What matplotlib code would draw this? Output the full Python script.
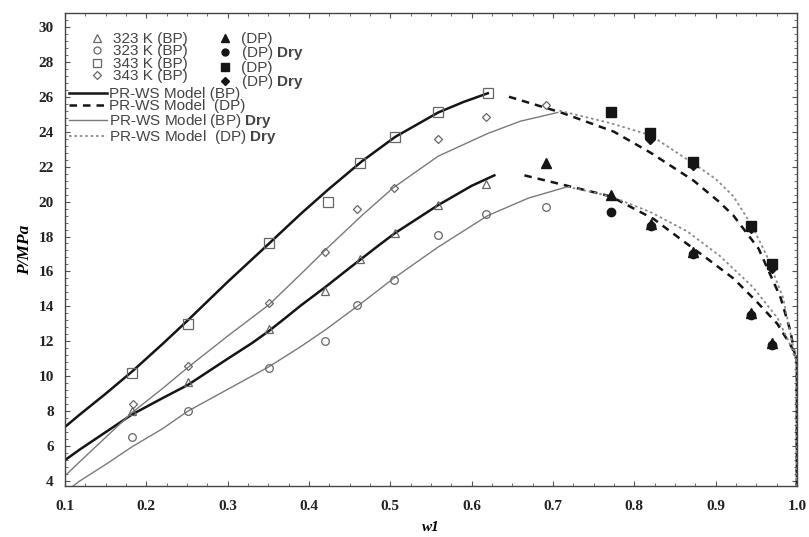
import matplotlib
matplotlib.use("Agg")
import matplotlib.pyplot as plt
from matplotlib.lines import Line2D
from matplotlib.ticker import MultipleLocator


# =========================
# DATA
# =========================
# experimental bubble points (open markers)
bp323_x = [0.182, 0.251, 0.351, 0.420, 0.463, 0.506, 0.559, 0.618]
bp323_y = [8.0, 9.7, 12.7, 14.9, 16.7, 18.2, 19.8, 21.0]
bp323dry_x = [0.183, 0.251, 0.351, 0.420, 0.459, 0.504, 0.559, 0.618, 0.692]
bp323dry_y = [6.5, 8.0, 10.5, 12.0, 14.1, 15.5, 18.1, 19.3, 19.7]
bp343_x = [0.182, 0.251, 0.351, 0.424, 0.463, 0.506, 0.559, 0.620]
bp343_y = [10.2, 13.0, 17.6, 20.0, 22.2, 23.7, 25.1, 26.2]
bp343dry_x = [0.184, 0.251, 0.351, 0.420, 0.459, 0.504, 0.559, 0.618, 0.692]
bp343dry_y = [8.4, 10.6, 14.2, 17.1, 19.6, 20.8, 23.6, 24.85, 25.5]

# experimental dew points (filled markers)
dp323_x = [0.691, 0.771, 0.821, 0.872, 0.943, 0.969]
dp323_y = [22.2, 20.4, 18.7, 17.1, 13.6, 11.9]
dp323dry_x = [0.771, 0.821, 0.872, 0.943, 0.969]
dp323dry_y = [19.4, 18.6, 17.0, 13.5, 11.8]
dp343_x = [0.771, 0.820, 0.872, 0.943, 0.969]
dp343_y = [25.1, 23.9, 22.25, 18.6, 16.4]
dp343dry_x = [0.820, 0.872, 0.943, 0.969]
dp343dry_y = [23.6, 22.1, 18.5, 16.2]

# PR-WS model curves
m_bp343_x = [0.10, 0.118, 0.15, 0.182, 0.22, 0.251, 0.30, 0.351, 0.39, 0.424, 0.465, 0.506, 0.559, 0.59, 0.62]
m_bp343_y = [7.1, 7.8, 9.0, 10.25, 11.85, 13.2, 15.4, 17.6, 19.3, 20.7, 22.3, 23.7, 25.1, 25.7, 26.2]
m_bp323_x = [0.10, 0.118, 0.15, 0.182, 0.22, 0.251, 0.30, 0.33, 0.351, 0.37, 0.39, 0.42, 0.45, 0.486, 0.506, 0.559, 0.60, 0.628]
m_bp323_y = [5.2, 5.8, 6.8, 7.8, 8.75, 9.5, 11.0, 11.9, 12.6, 13.3, 14.05, 15.1, 16.2, 17.5, 18.2, 19.8, 20.9, 21.5]
m_bp343dry_x = [0.10, 0.118, 0.15, 0.182, 0.22, 0.251, 0.30, 0.351, 0.39, 0.424, 0.465, 0.504, 0.559, 0.62, 0.66, 0.706]
m_bp343dry_y = [4.3, 5.1, 6.5, 7.9, 9.3, 10.5, 12.3, 14.1, 15.85, 17.4, 19.2, 20.8, 22.6, 23.9, 24.6, 25.1]
m_bp323dry_x = [0.11, 0.118, 0.15, 0.182, 0.22, 0.251, 0.30, 0.351, 0.39, 0.42, 0.465, 0.504, 0.559, 0.62, 0.67, 0.718]
m_bp323dry_y = [3.72, 4.0, 4.95, 5.95, 7.0, 8.0, 9.25, 10.55, 11.7, 12.65, 14.2, 15.6, 17.4, 19.2, 20.2, 20.85]

m_dp343_x = [0.646, 0.71, 0.775, 0.82, 0.873, 0.904, 0.922, 0.953, 0.98, 0.992, 0.998, 1.0, 1.0]
m_dp343_y = [26.0, 25.1, 24.0, 22.8, 21.2, 20.0, 19.2, 17.3, 14.5, 12.6, 11.1, 10.8, 3.72]
m_dp343dry_x = [0.708, 0.77, 0.82, 0.872, 0.90, 0.922, 0.945, 0.963, 0.983, 0.995, 1.0, 1.0]
m_dp343dry_y = [25.2, 24.5, 23.8, 22.2, 21.3, 20.3, 18.6, 16.9, 14.5, 11.8, 10.8, 3.72]
m_dp323_x = [0.665, 0.718, 0.771, 0.824, 0.873, 0.885, 0.922, 0.95, 0.976, 0.992, 0.998, 1.0, 1.0]
m_dp323_y = [21.5, 20.9, 20.3, 19.0, 17.3, 16.9, 15.6, 14.3, 13.0, 11.8, 11.3, 10.8, 3.72]
m_dp323dry_x = [0.718, 0.771, 0.82, 0.865, 0.905, 0.946, 0.976, 0.99, 1.0]
m_dp323dry_y = [20.85, 20.3, 19.4, 18.3, 16.9, 15.1, 13.35, 12.0, 10.8]


# =========================
# STYLE
# =========================
plt.rcParams["mathtext.fontset"] = "custom"
plt.rcParams["mathtext.bf"] = "Liberation Sans:bold"
plt.rcParams["mathtext.rm"] = "Liberation Sans"

OPEN_EC = "#666666"
BLACK = "#151515"
GRAY = "#7a7a7a"
DOTGRAY = "#8a8a8a"
DASH = (0, (3.0, 2.4))
DOT = (0, (1.4, 1.6))
LEG_FONT = {"family": "Liberation Sans", "size": 11}

fig = plt.figure(figsize=(8.09, 5.37), dpi=100)
ax = fig.add_axes([0.0803, 0.095, 0.9047, 0.881])

# model lines
ax.plot(m_bp343_x, m_bp343_y, color=BLACK, lw=1.8)
ax.plot(m_bp323_x, m_bp323_y, color=BLACK, lw=1.8)
ax.plot(m_bp343dry_x, m_bp343dry_y, color=GRAY, lw=1.0)
ax.plot(m_bp323dry_x, m_bp323dry_y, color=GRAY, lw=1.0)
ax.plot(m_dp343_x, m_dp343_y, color=BLACK, lw=1.8, ls=DASH)
ax.plot(m_dp323_x, m_dp323_y, color=BLACK, lw=1.8, ls=DASH)
ax.plot(m_dp343dry_x, m_dp343dry_y, color=DOTGRAY, lw=1.3, ls=DOT)
ax.plot(m_dp323dry_x, m_dp323dry_y, color=DOTGRAY, lw=1.3, ls=DOT)

# experimental points
open_kw = dict(ls="none", mfc="none", mec=OPEN_EC, mew=0.9)
ax.plot(bp323_x, bp323_y, marker="^", ms=6, **open_kw)
ax.plot(bp323dry_x, bp323dry_y, marker="o", ms=5.5, **open_kw)
ax.plot(bp343_x, bp343_y, marker="s", ms=6.5, **open_kw)
ax.plot(bp343dry_x, bp343dry_y, marker="D", ms=4.5, **open_kw)

fill_kw = dict(ls="none", color=BLACK)
ax.plot(dp323_x, dp323_y, marker="^", ms=7, **fill_kw)
ax.plot(dp323dry_x, dp323dry_y, marker="o", ms=6, **fill_kw)
ax.plot(dp343_x, dp343_y, marker="s", ms=6.5, **fill_kw)
ax.plot(dp343dry_x, dp343dry_y, marker="D", ms=5, **fill_kw)

# axes
ax.set_xlim(0.1, 1.0)
ax.set_ylim(3.72, 30.8)
ax.xaxis.set_major_locator(MultipleLocator(0.1))
ax.xaxis.set_minor_locator(MultipleLocator(0.025))
ax.yaxis.set_major_locator(MultipleLocator(2))
ax.yaxis.set_minor_locator(MultipleLocator(0.4))
ax.tick_params(which="both", direction="in", top=True, right=True, color="#555555")
ax.tick_params(which="major", length=3.5, width=0.8)
ax.tick_params(which="minor", length=2.2, width=0.6)
ax.tick_params(axis="x", pad=10)
ax.tick_params(axis="y", pad=8)
for s in ax.spines.values():
    s.set_color("#444444")
    s.set_linewidth(1.0)

ax.set_xticklabels([f"{v:.1f}" for v in ax.get_xticks()])
for lab in ax.get_xticklabels() + ax.get_yticklabels():
    lab.set_family("Liberation Serif")
    lab.set_fontweight("bold")
    lab.set_fontsize(11)
    lab.set_color("#222222")

ax.set_xlabel("w1", family="Liberation Serif", style="italic", fontweight="bold",
              fontsize=11, labelpad=6)
ax.set_ylabel("P/MPa", family="Liberation Serif", style="italic", fontweight="bold",
              fontsize=12.5, labelpad=4)

# legends
mk_handles = [
    Line2D([], [], marker="^", ms=6, **open_kw),
    Line2D([], [], marker="o", ms=5, **open_kw),
    Line2D([], [], marker="s", ms=6, **open_kw),
    Line2D([], [], marker="D", ms=4.5, **open_kw),
    Line2D([], [], marker="^", ms=6, **fill_kw),
    Line2D([], [], marker="o", ms=5, **fill_kw),
    Line2D([], [], marker="s", ms=6, **fill_kw),
    Line2D([], [], marker="D", ms=4.5, **fill_kw),
]
mk_labels = ["323 K (BP)", "323 K (BP)", "343 K (BP)", "343 K (BP)",
             "(DP)", r"(DP) $\bf{Dry}$", "(DP)", r"(DP) $\bf{Dry}$"]
leg1 = ax.legend(mk_handles, mk_labels, ncol=2, loc="upper left",
                 bbox_to_anchor=(89 / 809, 1 - 32 / 537), bbox_transform=fig.transFigure,
                 frameon=False, borderpad=0, borderaxespad=0,
                 handlelength=1.0, handletextpad=0.54, columnspacing=2.0,
                 labelspacing=-0.1, prop=LEG_FONT, labelcolor="#444444")
ax.add_artist(leg1)

ln_handles = [
    Line2D([], [], color=BLACK, lw=1.8),
    Line2D([], [], color=BLACK, lw=1.8, ls=DASH),
    Line2D([], [], color=GRAY, lw=1.0),
    Line2D([], [], color=DOTGRAY, lw=1.3, ls=DOT),
]
ln_labels = ["PR-WS Model (BP)", "PR-WS Model  (DP)",
             r"PR-WS Model (BP) $\bf{Dry}$", r"PR-WS Model  (DP) $\bf{Dry}$"]
ax.legend(ln_handles, ln_labels, loc="upper left",
          bbox_to_anchor=(69 / 809, 1 - 87 / 537), bbox_transform=fig.transFigure,
          frameon=False, borderpad=0, borderaxespad=0,
          handlelength=2.5, handletextpad=0.15,
          labelspacing=-0.1, prop=LEG_FONT, labelcolor="#444444")

fig.savefig("out.png", dpi=100)
